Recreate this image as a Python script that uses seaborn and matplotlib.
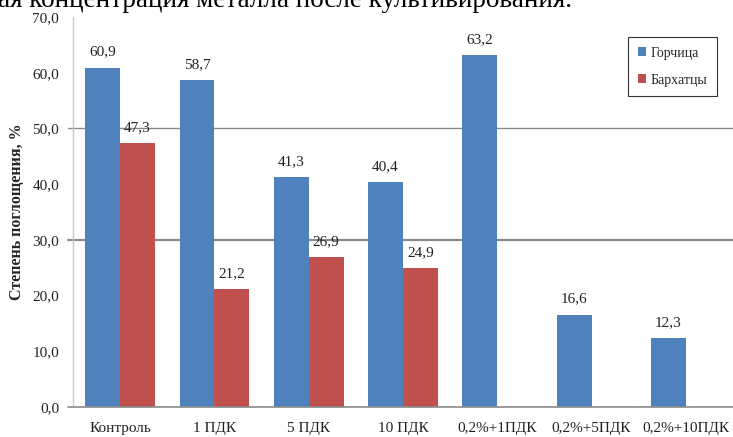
import numpy as np
import pandas as pd
import matplotlib
matplotlib.use("Agg")
import matplotlib.pyplot as plt
import seaborn as sns

# Absorption degree (%) by treatment for two plant species
categories = ["Контроль", "1 ПДК", "5 ПДК", "10 ПДК", "0,2%+1ПДК", "0,2%+5ПДК", "0,2%+10ПДК"]
mustard = [60.9, 58.7, 41.3, 40.4, 63.2, 16.6, 12.3]
marigold = [47.3, 21.2, 26.9, 24.9, np.nan, np.nan, np.nan]
series_names = ["Горчица", "Бархатцы"]
y_ticks = [0, 10, 20, 30, 40, 50, 60, 70]

df = pd.DataFrame({
    "category": categories * 2,
    "value": mustard + marigold,
    "series": [series_names[0]] * len(categories) + [series_names[1]] * len(categories),
})

sns.set_theme(style="white")
plt.rcParams["font.family"] = ["Liberation Serif", "DejaVu Serif"]

W, H = 733, 437
fig = plt.figure(figsize=(W / 100, H / 100), dpi=100)
ax = fig.add_axes([73 / W, 30 / H, 660 / W, 390 / H])

palette = {series_names[0]: "#4F81BD", series_names[1]: "#C0504D"}
sns.barplot(data=df, x="category", y="value", hue="series", order=categories,
            hue_order=series_names, palette=palette, width=0.74, saturation=1,
            linewidth=0, ax=ax, zorder=3, legend=True)

ax.set_ylim(0, 70)
ax.set_xlim(-0.5, len(categories) - 0.5)
ax.set_yticks(y_ticks)
ax.set_yticklabels([f"{v:.1f}".replace(".", ",") for v in y_ticks])
ax.tick_params(axis="y", length=0, pad=10, labelsize=11, colors="#222222")
ax.tick_params(axis="x", length=0, pad=11, labelsize=11, colors="#222222")
ax.set_xlabel("")
ax.set_ylabel("")

for side in ["top", "right"]:
    ax.spines[side].set_visible(False)
ax.spines["left"].set_color("#C8C8C8")
ax.spines["left"].set_linewidth(1.0)
ax.spines["bottom"].set_visible(False)
ax.axhline(0, xmin=-0.008, xmax=1, color="#8A8A8A", lw=1.2, clip_on=False, zorder=4)

# horizontal rules
ax.axhline(50, xmin=-0.008, xmax=1, color="#8A8A8A", lw=1.0, clip_on=False, zorder=1)
ax.axhline(30, xmin=-0.008, xmax=1, color="#8A8A8A", lw=1.6, clip_on=False, zorder=1)

# value labels
for container in ax.containers:
    for bar in container:
        h = bar.get_height()
        if np.isnan(h):
            continue
        ax.annotate(f"{h:.1f}".replace(".", ","),
                    (bar.get_x() + bar.get_width() / 2, h),
                    xytext=(0, 6.5), textcoords="offset points",
                    ha="center", va="bottom", fontsize=11, color="#222222", zorder=5)

leg = ax.legend(loc="upper left", bbox_to_anchor=((628 - 73) / 660, (407 - 37) / 390),
                frameon=True, fancybox=False, edgecolor="black", fontsize=10,
                handlelength=0.6, handleheight=0.6, handletextpad=0.3,
                labelspacing=1.0, borderpad=0.7, borderaxespad=0)
leg.get_frame().set_linewidth(0.8)

fig.text(17 / W, 1 - 212 / H, "Степень поглощения, %", rotation=90,
         ha="center", va="center", fontsize=11.5, fontweight="bold")

# caption line from the surrounding text
fig.text(-2 / W, 1 - 7 / H, "ая концентрация металла после культивирования.",
         ha="left", va="baseline", fontsize=19.5, color="black")

fig.savefig("out.png", dpi=100)
